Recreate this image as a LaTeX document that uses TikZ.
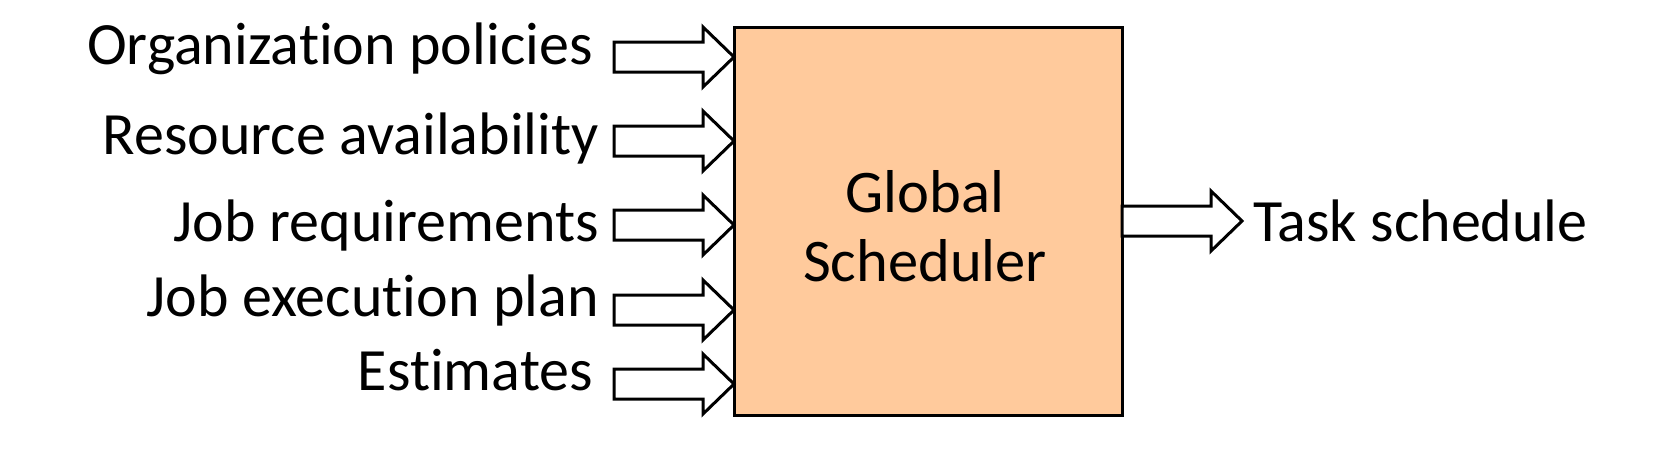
\documentclass[tikz,border=0pt]{standalone}
\usepackage{fontspec}
\setmainfont{Carlito}[Ligatures=NoCommon]
\definecolor{peach}{HTML}{FFCA9C}
\begin{document}
\begin{tikzpicture}[x=1pt,y=-1pt,
  lab/.style={anchor=base east,inner sep=0pt,font=\fontsize{60}{70}\selectfont},
  blk/.style={draw=black,fill=white,line width=3pt,line join=miter},
  sched/.style={draw=black,fill=peach,line width=3pt,minimum width=388pt,minimum height=388pt,inner sep=0pt}]
\useasboundingbox (0,0) rectangle (1667,455);
\node[sched] (box) at (928,221) {};
\node[align=center,inner sep=0pt,font=\fontsize{60.5}{69}\selectfont] (title) at (925,226) {Global\\Scheduler};
\newcommand{\blockarrow}[2]{%
  \draw[blk] (#1,#2-15) -- ++(89,0) -- ++(0,-15) -- ++(31,30) -- ++(-31,30) -- ++(0,-15) -- ++(-89,0) -- cycle;}
\foreach \yy/\bb/\xr/\txt [count=\i] in {57/64/593/Organization policies,141/154/599/Resource availability,225/241/599/Job requirements,310/316/599/Job execution plan,384/390/593/Estimates}{
  \node[lab] (l\i) at (\xr,\bb) {\txt};
  \blockarrow{614}{\yy}
}
\blockarrow{1122}{221}
\node[anchor=base west,inner sep=0pt,font=\fontsize{60}{70}\selectfont] (out) at (1253,241) {Task schedule};
\end{tikzpicture}
\end{document}
